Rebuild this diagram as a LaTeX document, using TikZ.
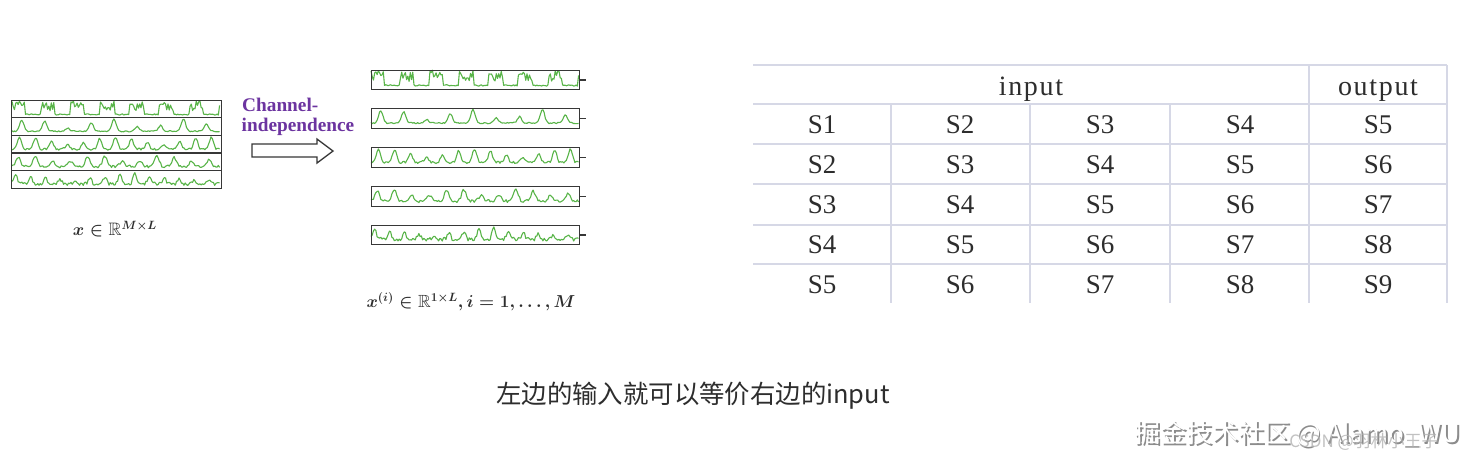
\documentclass[tikz,border=0pt]{standalone}
\usepackage{amssymb}
\usepackage{fontspec}
\setmainfont{Liberation Serif}
\newfontfamily\cjk{Noto Sans CJK SC}
\definecolor{wavegreen}{RGB}{88,180,72}
\definecolor{chanpurple}{RGB}{108,52,160}
\definecolor{gridline}{RGB}{214,216,230}
\definecolor{boxline}{RGB}{55,55,55}
\definecolor{txtgray}{RGB}{45,45,45}
\tikzset{
  wv/.style={wavegreen, line width=1.1pt, line join=round},
  rowbox/.style={draw=boxline, line width=1.4pt},
  grid/.style={gridline, line width=2pt},
  cell/.style={font=\fontsize{27}{30}\selectfont, text=txtgray, inner sep=0pt},
  head/.style={font=\fontsize{28}{30}\selectfont\addfontfeature{LetterSpace=6}, text=txtgray, inner sep=0pt, anchor=base},
  chan/.style={font=\fontsize{19.3}{21}\selectfont\bfseries, text=chanpurple, inner sep=0pt, anchor=base west},
  mlabel/.style={text=txtgray, inner sep=0pt},
}
\newcommand\wave[6]{% fn, seed, x0, ybottom, width, height
  \pgfmathsetseed{#2}
  \draw[wv] plot[domain=0:1,samples=170] ({#3+#5*\x},{#4-#6*#1(\x)});
}
\begin{document}
\begin{tikzpicture}[x=1pt,y=-1pt,
  declare function={
    wa(\u)=0.10+(0.25+0.6*rnd)*(sin(360*7*\u+20)>0.05)+0.08*rnd;
    wb(\u)=0.15+(0.5+0.3*sin(360*2.7*\u))*(0.5+0.5*sin(360*9*\u-60))^6+0.08*rnd;
    wc(\u)=0.10+(0.55+0.25*sin(360*2.3*\u+40))*(0.5+0.5*sin(360*13*\u-80))^3+0.13*rnd;
    wd(\u)=0.10+(0.5+0.2*sin(360*3.1*\u))*(0.5+0.5*sin(360*12*\u-40))^3+0.18*rnd;
    we(\u)=0.10+(0.4+0.2*sin(360*1.7*\u+90))*(0.5+0.5*sin(360*14*\u))^4+0.24*rnd;
  }]
\useasboundingbox[fill=white] (0,0) rectangle (1470,464);

% ---------- left stacked block ----------
\wave{wa}{3}{12}{116.6}{208}{15.6}
\wave{wb}{5}{12}{134.2}{208}{15.6}
\wave{wc}{7}{12}{151.8}{208}{15.6}
\wave{wd}{9}{12}{169.4}{208}{15.6}
\wave{we}{11}{12}{187.0}{208}{15.6}
\node[rowbox, minimum width=210pt, minimum height=88pt, anchor=north west, inner sep=0pt] (blk) at (11,100) {};
\foreach \yy in {117.6,135.2,152.8,170.4}
  \draw[boxline, line width=1.4pt] (blk.west |- 0,\yy) -- (blk.east |- 0,\yy);

\node[mlabel, font=\fontsize{18}{22}\selectfont\boldmath] (lx) at (115,229) {$x\in\mathbb{R}^{M\times L}$};

% ---------- channel independence ----------
\node[chan] (ch1) at (242,111.5) {Channel-};
\node[chan] (ch2) at (241.5,131.5) {independence};
\coordinate (arA) at (252,144);
\draw[boxline, line width=1.3pt, fill=white, line join=miter]
  (arA) -- ++(65,0) -- ++(0,-5) -- (333,151) -- (317,163) -- ++(0,-6) -- (252,157) -- cycle;

% ---------- right separated series ----------
\foreach \tp/\fn/\sd [count=\k] in {69.5/wa/3,108/wb/5,147/wc/7,186/wd/9,224.5/we/11}{
  \wave{\fn}{\sd}{371}{\tp+18.3}{208}{17.3}
  \node[rowbox, minimum width=208pt, minimum height=19.5pt, anchor=north west, inner sep=0pt] (r\k) at (371,\tp) {};
  \draw[boxline, line width=1.2pt] (r\k.east) -- ++(6,0);
}
\node[mlabel, font=\fontsize{17.6}{22}\selectfont\boldmath] (lxi) at (471,302) {$x^{(i)}\in\mathbb{R}^{1\times L}, i=1,\ldots,M$};

% ---------- table ----------
\foreach \yy in {65,104,144,184,224.5,264}
  \draw[grid] (753,\yy) -- (1447,\yy);
\draw[grid] (1309,65) -- (1309,303);
\draw[grid] (1447,65) -- (1447,303);
\foreach \xx in {891,1029.5,1170}
  \draw[grid] (\xx,104) -- (\xx,303);
\node[head] (hin) at (1031,95) {input};
\node[head] (hout) at (1378,95) {output};
\foreach \r [count=\i from 0] in {1,...,5}{
  \foreach \cx [count=\j from 0] in {822,960,1100,1240,1378}{
    \pgfmathtruncatemacro\v{\r+\j}
    \node[cell] (c-\r-\j) at (\cx,124.5+40*\i) {S\v};
  }
}

% ---------- caption ----------
\node[font=\cjk\fontsize{25.4}{28}\selectfont, text=txtgray, inner sep=0pt] (cap) at (693,396) {左边的输入就可以等价右边的input};

% ---------- watermarks ----------
\node[font=\cjk\fontsize{26}{28}\selectfont, text=black!45, inner sep=0pt] (wm1s) at (1299,435.5) {掘金技术社区 @ Alamo\_WU};
\node[font=\cjk\fontsize{26}{28}\selectfont, text=white, inner sep=0pt] (wm1) at (1297.5,434) {掘金技术社区 @ Alamo\_WU};
\node[font=\cjk\fontsize{17}{20}\selectfont, text=black!30, inner sep=0pt, opacity=0.8] (wm2) at (1364,442) {CSDN @羽林小王子};
\end{tikzpicture}
\end{document}
